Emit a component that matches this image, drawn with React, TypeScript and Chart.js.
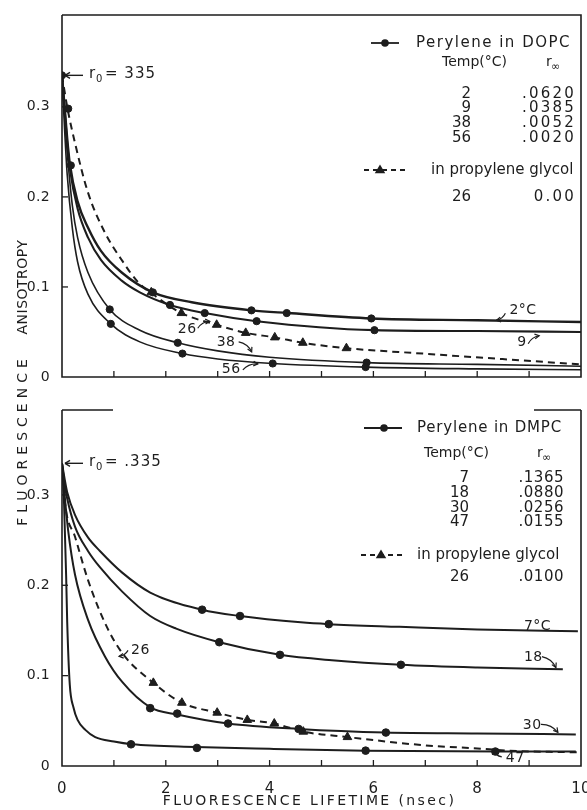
import React, { useEffect, useRef } from "react";
import { Chart, registerables } from "chart.js";

Chart.register(...registerables);

const FONT = '"DejaVu Sans", "Liberation Sans", sans-serif';
const INK = "#1d1d1d";

// ---------- axes ----------
const xMin = 0;
const xMax = 10;
const xLabelTicks = [0, 2, 4, 6, 8, 10];
const xMarkTicks = [1, 2, 3, 4, 5, 6, 7, 8, 9];
const yTickValues = [0, 0.1, 0.2, 0.3];
const yTickLabels = ["0", "0.1", "0.2", "0.3"];
const yMarkTicks = [0.1, 0.2, 0.3];
const topYMax = 0.402;
const bottomYMax = 0.394;
const r0Value = 0.335;

// ---------- top panel: perylene in DOPC ----------
const dopc2X = [0, 0.05, 0.1, 0.15, 0.3, 0.5, 0.75, 1.15, 1.75, 2.5, 3.65, 4.35, 5.96, 8, 10];
const dopc2Y = [0.335, 0.3, 0.265, 0.237, 0.195, 0.166, 0.14, 0.116, 0.094, 0.083, 0.074, 0.071, 0.065, 0.063, 0.061];
const dopc9X = [0, 0.05, 0.1, 0.15, 0.3, 0.5, 0.75, 1.15, 1.5, 2.08, 2.75, 3.75, 6.02, 8, 10];
const dopc9Y = [0.335, 0.298, 0.26, 0.232, 0.187, 0.155, 0.13, 0.107, 0.094, 0.08, 0.071, 0.062, 0.052, 0.051, 0.05];
const dopc38X = [0, 0.05, 0.1, 0.2, 0.3, 0.5, 0.92, 1.5, 2.23, 3, 4, 5.87, 8, 10];
const dopc38Y = [0.335, 0.29, 0.25, 0.19, 0.155, 0.116, 0.075, 0.052, 0.038, 0.029, 0.022, 0.016, 0.014, 0.012];
const dopc56X = [0, 0.05, 0.1, 0.2, 0.3, 0.5, 0.94, 1.5, 2.32, 3, 4.06, 5.85, 8, 10];
const dopc56Y = [0.335, 0.275, 0.225, 0.165, 0.128, 0.092, 0.059, 0.039, 0.026, 0.02, 0.015, 0.011, 0.009, 0.008];
const dopcPgX = [0, 0.1, 0.25, 0.5, 0.83, 1.15, 1.47, 1.75, 2.3, 2.98, 3.54, 4.1, 4.64, 5.48, 6.95, 8.2, 10];
const dopcPgY = [0.335, 0.3, 0.26, 0.205, 0.16, 0.13, 0.105, 0.092, 0.071, 0.058, 0.049, 0.044, 0.038, 0.032, 0.026, 0.021, 0.014];

const dopcDotX = [0, 0.12, 0.17, 1.75, 3.65, 4.33, 5.96, 2.08, 2.75, 3.75, 6.02, 0.92, 2.23, 5.87, 0.94, 2.32, 4.06, 5.85];
const dopcDotY = [0.335, 0.298, 0.235, 0.094, 0.074, 0.071, 0.065, 0.08, 0.071, 0.062, 0.052, 0.075, 0.038, 0.016, 0.059, 0.026, 0.015, 0.011];
const dopcTriX = [1.72, 2.3, 2.98, 3.54, 4.1, 4.64, 5.48];
const dopcTriY = [0.094, 0.071, 0.058, 0.049, 0.044, 0.038, 0.032];

const dopcTemps = ["2", "9", "38", "56"];
const dopcRinf = [".0620", ".0385", ".0052", ".0020"];
const dopcPgTemp = "26";
const dopcPgRinf = "0.00";
const dopcLabelText = ["2°C", "9", "26", "38", "56"];
const dopcLabelX = [8.62, 8.77, 2.23, 2.98, 3.08];
const dopcLabelY = [0.074, 0.038, 0.053, 0.039, 0.009];

// ---------- bottom panel: perylene in DMPC ----------
const dmpc7X = [0, 0.05, 0.1, 0.25, 0.5, 0.73, 1.16, 1.7, 2.7, 3.43, 4.6, 5.14, 6.5, 8, 9.94];
const dmpc7Y = [0.335, 0.318, 0.303, 0.278, 0.253, 0.238, 0.214, 0.192, 0.173, 0.166, 0.159, 0.157, 0.154, 0.151, 0.149];
const dmpc18X = [0, 0.05, 0.1, 0.25, 0.5, 0.73, 1.16, 1.7, 2.2, 3.03, 4.2, 5.2, 6.53, 8, 9.65];
const dmpc18Y = [0.335, 0.312, 0.296, 0.265, 0.238, 0.22, 0.193, 0.166, 0.152, 0.137, 0.123, 0.117, 0.112, 0.109, 0.107];
const dmpc30X = [0, 0.05, 0.12, 0.25, 0.5, 0.83, 1.16, 1.7, 2.22, 3.2, 4.56, 6.24, 8, 9.9];
const dmpc30Y = [0.335, 0.3, 0.26, 0.212, 0.162, 0.121, 0.093, 0.065, 0.057, 0.047, 0.041, 0.037, 0.036, 0.035];
const dmpc47X = [0, 0.04, 0.08, 0.1, 0.15, 0.22, 0.3, 0.45, 0.64, 1, 1.35, 2.57, 4, 5.85, 8.4, 9.9];
const dmpc47Y = [0.335, 0.29, 0.21, 0.16, 0.09, 0.065, 0.051, 0.04, 0.032, 0.027, 0.024, 0.021, 0.019, 0.017, 0.016, 0.016];
const dmpcPgX = [0, 0.06, 0.25, 0.5, 0.83, 1.16, 1.76, 2.31, 2.99, 3.57, 4.09, 4.65, 5.5, 6.97, 8.13, 8.6, 10];
const dmpcPgY = [0.335, 0.29, 0.254, 0.206, 0.158, 0.125, 0.092, 0.07, 0.059, 0.051, 0.047, 0.038, 0.032, 0.023, 0.019, 0.017, 0.015];

const dmpcDotX = [2.7, 3.43, 5.14, 3.03, 4.2, 6.53, 1.7, 2.22, 3.2, 4.56, 6.24, 1.33, 2.6, 5.85, 8.35];
const dmpcDotY = [0.173, 0.166, 0.157, 0.137, 0.123, 0.112, 0.064, 0.058, 0.047, 0.041, 0.037, 0.024, 0.02, 0.017, 0.016];
const dmpcTriX = [1.76, 2.31, 2.99, 3.57, 4.09, 4.65, 5.5];
const dmpcTriY = [0.092, 0.07, 0.059, 0.051, 0.047, 0.038, 0.032];

const dmpcTemps = ["7", "18", "30", "47"];
const dmpcRinf = [".1365", ".0880", ".0256", ".0155"];
const dmpcPgTemp = "26";
const dmpcPgRinf = ".0100";
const dmpcLabelText = ["26", "7°C", "18", "30", "47"];
const dmpcLabelX = [1.33, 8.9, 8.9, 8.88, 8.55];
const dmpcLabelY = [0.128, 0.155, 0.12, 0.045, 0.009];

const pts = (xs: number[], ys: number[]) => xs.map((x, i) => ({ x, y: ys[i] }));

function curveDs(xs: number[], ys: number[], width: number, dashed = false) {
  return {
    data: pts(xs, ys),
    borderColor: INK,
    borderWidth: width,
    borderDash: dashed ? [7, 5] : [],
    pointRadius: 0,
    cubicInterpolationMode: "monotone",
    fill: false,
    showLine: true,
    order: 2,
  };
}
function markDs(xs: number[], ys: number[], style: string, r: number) {
  return {
    data: pts(xs, ys),
    showLine: false,
    pointStyle: style,
    pointRadius: r,
    pointBackgroundColor: INK,
    pointBorderColor: INK,
    pointBorderWidth: 1,
    order: 1,
  };
}

function line(ctx: any, x1: number, y1: number, x2: number, y2: number) {
  ctx.beginPath();
  ctx.moveTo(x1, y1);
  ctx.lineTo(x2, y2);
  ctx.stroke();
}
function text(ctx: any, s: string, x: number, y: number, align: string, size = 15, spacing = 1) {
  ctx.font = `${size}px ${FONT}`;
  ctx.letterSpacing = `${spacing}px`;
  ctx.textAlign = align;
  ctx.textBaseline = "middle";
  ctx.fillText(s, x, y);
}
function arrow(ctx: any, x1: number, y1: number, x2: number, y2: number) {
  const mx = (x1 + x2) / 2 + (y2 - y1) * 0.25;
  const my = (y1 + y2) / 2 - (x2 - x1) * 0.25;
  ctx.beginPath();
  ctx.moveTo(x1, y1);
  ctx.quadraticCurveTo(mx, my, x2, y2);
  ctx.stroke();
  const ang = Math.atan2(y2 - my, x2 - mx);
  ctx.beginPath();
  ctx.moveTo(x2 - 5 * Math.cos(ang - 0.5), y2 - 5 * Math.sin(ang - 0.5));
  ctx.lineTo(x2, y2);
  ctx.lineTo(x2 - 5 * Math.cos(ang + 0.5), y2 - 5 * Math.sin(ang + 0.5));
  ctx.stroke();
}
function triangle(ctx: any, x: number, y: number, r: number) {
  ctx.beginPath();
  ctx.moveTo(x, y - r);
  ctx.lineTo(x + r * 0.95, y + r * 0.6);
  ctx.lineTo(x - r * 0.95, y + r * 0.6);
  ctx.closePath();
  ctx.fill();
}
function dot(ctx: any, x: number, y: number, r: number) {
  ctx.beginPath();
  ctx.arc(x, y, r, 0, Math.PI * 2);
  ctx.fill();
}

type Legend = {
  title: string;
  titleSpacing: number;
  valSpacing: number;
  temps: string[];
  vals: string[];
  pgTemp: string;
  pgVal: string;
  row0: number;
  solid: [number, number, number];
  titleLeft: number;
  header: number;
  tempHeadLeft: number;
  rHeadLeft: number;
  rows: number[];
  tempRight: number;
  valRight: number;
  dashRow: number;
  dashed: [number, number, number];
  pgLeft: number;
  lastRow: number;
};

type Panel = {
  curves: any[];
  marks: any[];
  yMax: number;
  showXLabels: boolean;
  axisHeight: number;
  fullTop: boolean;
  r0Text: string;
  legend: Legend;
  labelText: string[];
  labelX: number[];
  labelY: number[];
  arrows: (number[] | null)[];
};

function drawLegend(ctx: any, a: any, L: Legend) {
  const R = a.right;
  const T = a.top;
  ctx.fillStyle = INK;
  ctx.strokeStyle = INK;
  ctx.lineWidth = 1.8;
  line(ctx, R + L.solid[0], T + L.row0, R + L.solid[1], T + L.row0);
  dot(ctx, R + L.solid[2], T + L.row0, 3.8);
  text(ctx, L.title, R + L.titleLeft, T + L.row0, "left", 15, L.titleSpacing);
  text(ctx, "Temp(°C)", R + L.tempHeadLeft, T + L.header, "left", 14, 0);
  text(ctx, "r", R + L.rHeadLeft, T + L.header, "left", 14, 0);
  text(ctx, "∞", R + L.rHeadLeft + 5, T + L.header + 5, "left", 11, 0);
  L.temps.forEach((t, i) => {
    text(ctx, t, R + L.tempRight, T + L.rows[i], "right", 15, 0);
    text(ctx, L.vals[i], R + L.valRight, T + L.rows[i], "right", 15, L.valSpacing);
  });
  ctx.setLineDash([5, 4]);
  line(ctx, R + L.dashed[0], T + L.dashRow, R + L.dashed[1], T + L.dashRow);
  ctx.setLineDash([]);
  triangle(ctx, R + L.dashed[2], T + L.dashRow, 5.5);
  text(ctx, "in propylene glycol", R + L.pgLeft, T + L.dashRow, "left", 15, 0);
  text(ctx, L.pgTemp, R + L.tempRight, T + L.lastRow, "right", 15, 0);
  text(ctx, L.pgVal, R + L.valRight, T + L.lastRow, "right", 15, L.valSpacing);
}

function decoPlugin(p: Panel) {
  return {
    id: "deco",
    beforeDraw(chart: any) {
      chart.ctx.letterSpacing = "0.3px";
    },
    afterDraw(chart: any) {
      const { ctx, chartArea: a, scales } = chart;
      const xs = scales.x;
      const ys = scales.y;
      ctx.save();
      ctx.strokeStyle = INK;
      ctx.fillStyle = INK;
      ctx.lineWidth = 1.6;
      // frame
      ctx.beginPath();
      ctx.moveTo(a.left, a.top);
      ctx.lineTo(a.left, a.bottom);
      ctx.lineTo(a.right, a.bottom);
      ctx.lineTo(a.right, a.top);
      if (p.fullTop) {
        ctx.lineTo(a.left, a.top);
      } else {
        ctx.moveTo(a.right, a.top);
        ctx.lineTo(a.right - 47, a.top);
        ctx.moveTo(a.left, a.top);
        ctx.lineTo(a.left + 51, a.top);
      }
      ctx.stroke();
      // inward tick marks
      ctx.lineWidth = 1.3;
      xMarkTicks.forEach((v) => {
        const px = xs.getPixelForValue(v);
        line(ctx, px, a.bottom, px, a.bottom - 6);
      });
      yMarkTicks.forEach((v) => {
        const py = ys.getPixelForValue(v);
        line(ctx, a.left, py, a.left + 6, py);
      });
      // r0 annotation
      const rx = xs.getPixelForValue(0);
      const ry = ys.getPixelForValue(r0Value);
      ctx.lineWidth = 1.4;
      line(ctx, rx + 3, ry, rx + 21, ry);
      line(ctx, rx + 3, ry, rx + 8, ry - 3);
      line(ctx, rx + 3, ry, rx + 8, ry + 3);
      text(ctx, "r", rx + 27, ry - 1, "left", 15, 1);
      text(ctx, "0", rx + 34, ry + 4, "left", 10, 0);
      text(ctx, "= " + p.r0Text, rx + 43, ry - 1, "left", 15, 1);
      // curve labels
      p.labelText.forEach((s, i) => {
        const lx = xs.getPixelForValue(p.labelX[i]);
        const ly = ys.getPixelForValue(p.labelY[i]);
        text(ctx, s, lx, ly, "left", 14, 0.5);
        const ar = p.arrows[i];
        if (ar) {
          ctx.lineWidth = 1.2;
          arrow(ctx, lx + ar[0], ly + ar[1], lx + ar[2], ly + ar[3]);
        }
      });
      drawLegend(ctx, a, p.legend);
      if (p.showXLabels) {
        text(ctx, "FLUORESCENCE LIFETIME (nsec)", (a.left + a.right) / 2 - 12, a.bottom + 35, "center", 14, 2.4);
      }
      ctx.restore();
    },
  };
}

function makeChart(canvas: HTMLCanvasElement, p: Panel) {
  return new Chart(canvas, {
    type: "line",
    data: { datasets: [...p.curves, ...p.marks] as any },
    options: {
      responsive: false,
      animation: false,
      devicePixelRatio: 1,
      events: [],
      layout: { padding: { top: 15, right: 5, left: 0, bottom: 0 } },
      plugins: { legend: { display: false }, tooltip: { enabled: false }, title: { display: false } },
      scales: {
        x: {
          type: "linear",
          min: xMin,
          max: xMax,
          grid: { display: false },
          border: { display: false },
          afterBuildTicks: (s: any) => {
            s.ticks = xLabelTicks.map((v) => ({ value: v }));
          },
          ticks: {
            display: p.showXLabels,
            padding: 6,
            color: INK,
            font: { family: FONT, size: 15 },
            maxRotation: 0,
            autoSkip: false,
            callback: (v: any) => String(v),
          },
          afterFit: (s: any) => {
            s.height = p.axisHeight;
            s.paddingLeft = 0;
            s.paddingRight = 0;
          },
        },
        y: {
          type: "linear",
          min: 0,
          max: p.yMax,
          grid: { display: false },
          border: { display: false },
          afterBuildTicks: (s: any) => {
            s.ticks = yTickValues.map((v) => ({ value: v }));
          },
          ticks: {
            padding: 4,
            color: INK,
            font: { family: FONT, size: 14 },
            autoSkip: false,
            callback: (_v: any, i: number) => yTickLabels[i],
          },
          afterFit: (s: any) => {
            s.width = 62;
            s.paddingTop = 0;
            s.paddingBottom = 0;
          },
        },
      },
    } as any,
    plugins: [decoPlugin(p)],
  });
}

const topPanel: Panel = {
  curves: [
    curveDs(dopc2X, dopc2Y, 2.4),
    curveDs(dopc9X, dopc9Y, 2.1),
    curveDs(dopc38X, dopc38Y, 1.6),
    curveDs(dopc56X, dopc56Y, 1.6),
    curveDs(dopcPgX, dopcPgY, 2, true),
  ],
  marks: [markDs(dopcDotX, dopcDotY, "circle", 3.6), markDs(dopcTriX, dopcTriY, "triangle", 5)],
  yMax: topYMax,
  showXLabels: false,
  axisHeight: 18,
  fullTop: true,
  r0Text: "335",
  legend: {
    title: "Perylene in DOPC",
    titleSpacing: 1.5,
    valSpacing: 2.2,
    temps: dopcTemps,
    vals: dopcRinf,
    pgTemp: dopcPgTemp,
    pgVal: dopcPgRinf,
    row0: 28,
    solid: [-210, -182, -196],
    titleLeft: -165,
    header: 47,
    tempHeadLeft: -139,
    rHeadLeft: -35,
    rows: [79, 93.5, 108, 123],
    tempRight: -110,
    valRight: -5,
    dashRow: 155,
    dashed: [-217, -174, -201],
    pgLeft: -150,
    lastRow: 182,
  },
  labelText: dopcLabelText,
  labelX: dopcLabelX,
  labelY: dopcLabelY,
  arrows: [[-4, 3, -13, 10], [11, 1, 22, -7], [20, -1, 32, -8], [22, 0, 35, 10], [21, 1, 36, -5]],
};

const bottomPanel: Panel = {
  curves: [
    curveDs(dmpc7X, dmpc7Y, 2),
    curveDs(dmpc18X, dmpc18Y, 2),
    curveDs(dmpc30X, dmpc30Y, 2),
    curveDs(dmpc47X, dmpc47Y, 2),
    curveDs(dmpcPgX, dmpcPgY, 2, true),
  ],
  marks: [markDs(dmpcDotX, dmpcDotY, "circle", 3.8), markDs(dmpcTriX, dmpcTriY, "triangle", 5)],
  yMax: bottomYMax,
  showXLabels: true,
  axisHeight: 44,
  fullTop: false,
  r0Text: ".335",
  legend: {
    title: "Perylene in DMPC",
    titleSpacing: 0.8,
    valSpacing: 0.5,
    temps: dmpcTemps,
    vals: dmpcRinf,
    pgTemp: dmpcPgTemp,
    pgVal: dmpcPgRinf,
    row0: 18,
    solid: [-217, -179, -197],
    titleLeft: -164,
    header: 43,
    tempHeadLeft: -157,
    rHeadLeft: -44,
    rows: [68, 83, 98, 112],
    tempRight: -112,
    valRight: -17,
    dashRow: 145,
    dashed: [-220, -175, -200],
    pgLeft: -164,
    lastRow: 167,
  },
  labelText: dmpcLabelText,
  labelX: dmpcLabelX,
  labelY: dmpcLabelY,
  arrows: [[-3, 0, -12, 6], null, [18, -1, 32, 10], [18, -1, 35, 7], [-4, -1, -13, -8]],
};

const yTitleStyle = {
  position: "absolute" as const,
  width: 240,
  height: 20,
  lineHeight: "20px",
  textAlign: "center" as const,
  transform: "rotate(-90deg)",
  fontFamily: FONT,
  fontSize: 14,
  color: INK,
  whiteSpace: "nowrap" as const,
};

export default function App() {
  const topRef = useRef<HTMLCanvasElement | null>(null);
  const botRef = useRef<HTMLCanvasElement | null>(null);

  useEffect(() => {
    const c1 = makeChart(topRef.current as HTMLCanvasElement, topPanel);
    const c2 = makeChart(botRef.current as HTMLCanvasElement, bottomPanel);
    return () => {
      c1.destroy();
      c2.destroy();
    };
  }, []);

  return (
    <div style={{ position: "absolute", left: 0, top: 0, width: 587, height: 810, background: "#fff", overflow: "hidden" }}>
      <canvas ref={topRef} width={587} height={395} style={{ position: "absolute", left: 0, top: 0, width: 587, height: 395 }} />
      <canvas ref={botRef} width={587} height={415} style={{ position: "absolute", left: 0, top: 395, width: 587, height: 415 }} />
      <div style={{ ...yTitleStyle, left: 22 - 120, top: 440 - 10, letterSpacing: "5px" }}>FLUORESCENCE</div>
      <div style={{ ...yTitleStyle, left: 22 - 120, top: 287 - 10, letterSpacing: "0.5px" }}>ANISOTROPY</div>
    </div>
  );
}
